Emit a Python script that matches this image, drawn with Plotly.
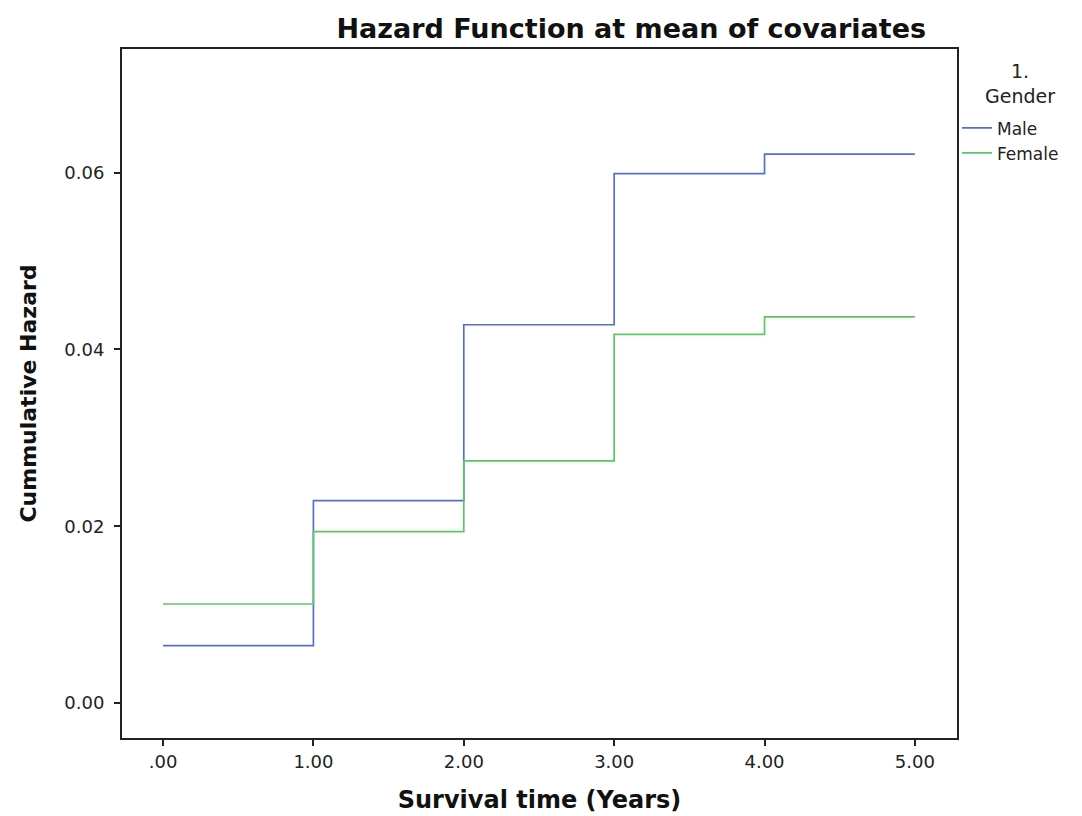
import plotly.graph_objects as go

time_years = [0, 1, 2, 3, 4, 5]
male_hazard = [0.0065, 0.0229, 0.0428, 0.0599, 0.0621, 0.0621]
female_hazard = [0.0112, 0.0194, 0.0274, 0.0417, 0.0437, 0.0437]
x_tick_vals = [0, 1, 2, 3, 4, 5]
x_tick_text = [".00", "1.00", "2.00", "3.00", "4.00", "5.00"]
y_tick_vals = [0.0, 0.02, 0.04, 0.06]
y_tick_text = ["0.00", "0.02", "0.04", "0.06"]
legend_title = "1.<br>Gender"

fig = go.Figure()
fig.add_trace(go.Scatter(x=time_years, y=male_hazard, mode="lines", name="Male",
                         line=dict(shape="hv", color="#5670c8", width=1.7)))
fig.add_trace(go.Scatter(x=time_years, y=female_hazard, mode="lines", name="Female",
                         line=dict(shape="hv", color="#5cc665", width=1.7)))

font_family = "DejaVu Sans, Arial, sans-serif"
fig.update_layout(
    width=1082, height=816,
    margin=dict(l=114, r=133, t=41, b=86),
    paper_bgcolor="white", plot_bgcolor="white",
    font=dict(family=font_family, size=16, color="#222"),
    title=dict(text="<b>Hazard Function at mean of covariates</b>", x=0.576, xanchor="center",
               y=0.975, yanchor="middle", font=dict(size=27, color="#111")),
    xaxis=dict(range=[-0.273, 5.28], tickvals=x_tick_vals, ticktext=x_tick_text,
               showgrid=False, zeroline=False, showline=True, linecolor="#222", linewidth=2,
               mirror=True, ticks="outside", ticklen=6, tickwidth=2, tickcolor="#222",
               tickfont=dict(size=18),
               title=dict(text="<b>Survival time (Years)</b>", font=dict(size=24, color="#111"), standoff=21)),
    yaxis=dict(range=[-0.00396, 0.0740], tickvals=y_tick_vals, ticktext=y_tick_text,
               showgrid=False, zeroline=False, showline=True, linecolor="#222", linewidth=2,
               mirror=True, ticks="outside", ticklen=6, tickwidth=2, tickcolor="#222",
               tickfont=dict(size=18), ticklabelstandoff=6,
               title=dict(text="<b>Cummulative Hazard</b>", font=dict(size=22, color="#111"), standoff=22)),
    legend=dict(x=1.0, xanchor="left", y=0.911, yanchor="top",
                font=dict(size=17, color="#222"), itemwidth=30, tracegroupgap=0,
                bgcolor="rgba(0,0,0,0)"),
    annotations=[dict(text=legend_title, xref="paper", yref="paper", x=1.0754, y=0.95,
                      xanchor="center", yanchor="middle", align="center", showarrow=False,
                      font=dict(size=19, color="#222"))],
)

fig.write_html("out.html")
